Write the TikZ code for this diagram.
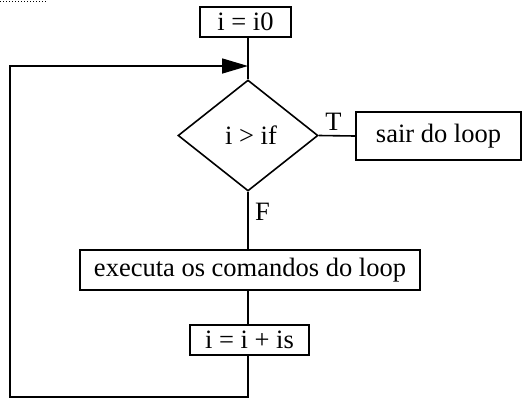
\documentclass[tikz,border=0pt]{standalone}
\usepackage{fontspec}
\setmainfont{Liberation Serif}
\usetikzlibrary{shapes.geometric,arrows.meta}
\tikzstyle{caixa} = [rectangle, draw=black, line width=1.6pt, inner sep=0pt, minimum height=30pt, text centered]
\tikzstyle{teste} = [diamond, draw=black, line width=1.6pt, inner sep=0pt, minimum width=140pt, minimum height=111pt]
\tikzstyle{liga} = [line width=1.6pt]

\begin{document}
\begin{tikzpicture}[x=1pt,y=-1pt,font=\fontsize{26.5}{30}\selectfont]
                \useasboundingbox (0,0) rectangle (522,400);
                \draw[dotted, line width=1pt] (0,1.5) -- (46,1.5);

                % blocos do fluxograma
                \node[caixa, minimum width=91pt] (ini) at (245.5,22) {i = i0};
                \node[teste] (cond) at (248,135.5) {\hspace{6pt}i > if};
                \node[caixa, minimum width=165pt, minimum height=48pt] (sair) at (438.5,136) {sair do loop};
                \node[caixa, minimum width=340pt, minimum height=40pt] (corpo) at (250,270) {executa os comandos do loop};
                \node[caixa, minimum width=119pt] (incr) at (249.5,340) {i = i + is};

                % pontos do laco de retorno
                \coordinate (junta) at (248,66);
                \coordinate (fundo) at (248,397);
                \coordinate (canto) at (10,397);
                \coordinate (topo) at (10,66);

                \draw[liga] (ini.south -| junta) -- (cond.north);
                \draw[liga] (cond.east) -- (sair.west) node[pos=0.4, above=1pt]{T};
                \draw[liga] (cond.south) -- (cond.south |- corpo.north) node[pos=0.35, right=3pt]{F};
                \draw[liga] (cond.south |- corpo.south) -- (cond.south |- incr.north);
                \draw[liga, -{Triangle[length=26pt,width=15pt]}] (cond.south |- incr.south) -- (fundo) -- (canto) -- (topo) -- (junta);
\end{tikzpicture}
\end{document}
